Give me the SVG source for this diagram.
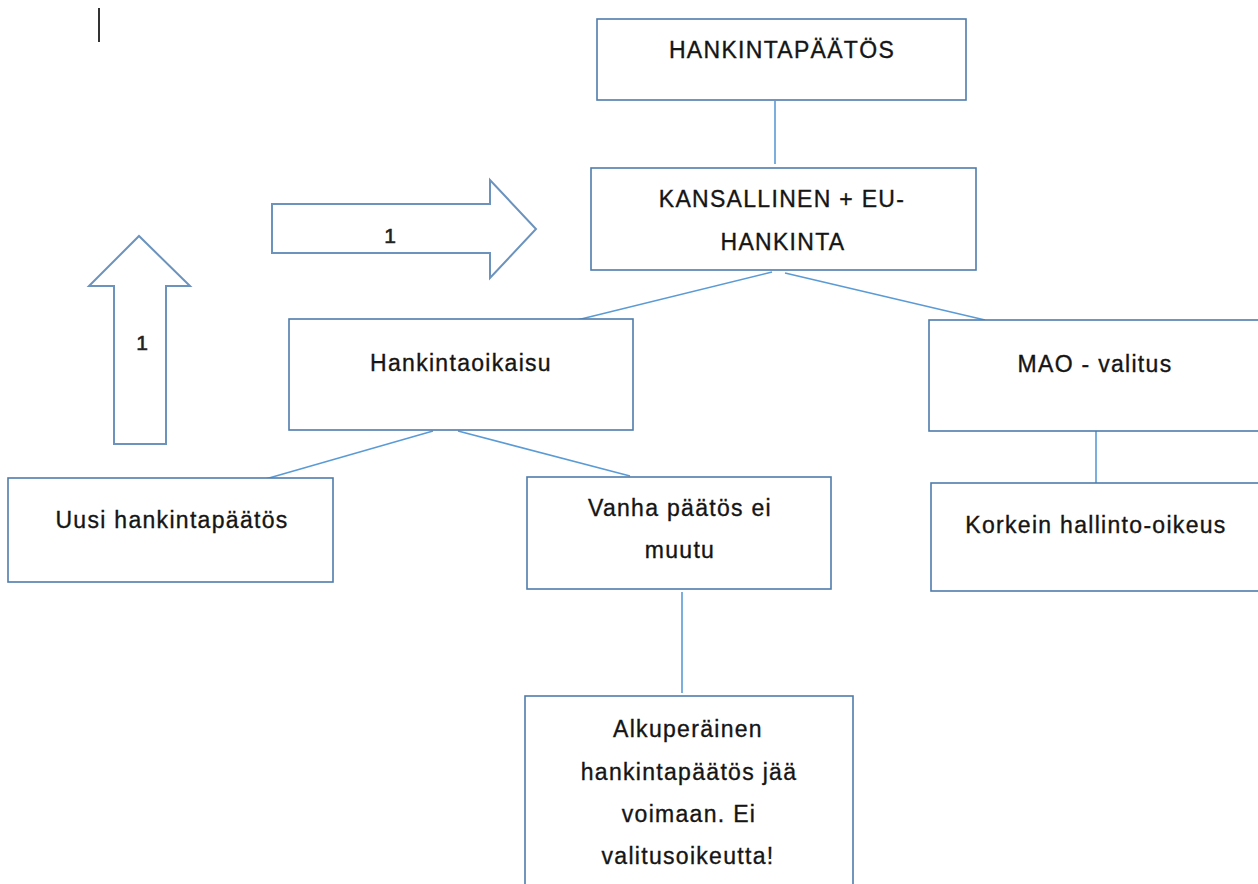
<svg xmlns="http://www.w3.org/2000/svg" width="1258" height="884" viewBox="0 0 1258 884">
<style>
.box{fill:#fff;stroke:#4f7cab;stroke-width:1.6}
.arrow{fill:#fff;stroke:#6b93be;stroke-width:2;stroke-linejoin:miter}
.conn{stroke:#5b9bd5;stroke-width:1.6;fill:none}
.t{font-family:"Liberation Sans",Arial,sans-serif;font-size:23px;fill:#151515;stroke:#151515;stroke-width:0.35;text-anchor:middle;letter-spacing:1.3px}
.n{font-family:"Liberation Sans",Arial,sans-serif;font-size:21px;fill:#222;stroke:#222;stroke-width:0.6;text-anchor:middle}
</style>
<rect x="98" y="8" width="2" height="34" fill="#333"/>
<g id="connectors">
<line class="conn" x1="775" y1="101" x2="775" y2="164"/>
<line class="conn" x1="772" y1="272" x2="577" y2="320"/>
<line class="conn" x1="785" y1="273" x2="985" y2="320"/>
<line class="conn" x1="433" y1="431" x2="262" y2="480"/>
<line class="conn" x1="458" y1="431" x2="630" y2="476"/>
<line class="conn" x1="1096" y1="431" x2="1096" y2="483"/>
<line class="conn" x1="682" y1="592" x2="682" y2="693"/>
</g>
<g id="arrow-right">
<polygon class="arrow" points="272,204 490,204 490,180 536,229 490,278 490,253 272,253"/>
<text class="n" x="390" y="243">1</text>
</g>
<g id="arrow-up">
<polygon class="arrow" points="114,444 114,286 89,286 139,236 190,286 166,286 166,444"/>
<text class="n" x="142" y="350">1</text>
</g>
<g id="hankintapaatos">
<rect class="box" x="597" y="19" width="369" height="81"/>
<text class="t" x="782" y="58">HANKINTAPÄÄTÖS</text>
</g>
<g id="kansallinen">
<rect class="box" x="591" y="168" width="385" height="102"/>
<text class="t" x="782" y="207">KANSALLINEN + EU-</text>
<text class="t" x="783" y="250">HANKINTA</text>
</g>
<g id="hankintaoikaisu">
<rect class="box" x="289" y="319" width="344" height="111"/>
<text class="t" x="461" y="371">Hankintaoikaisu</text>
</g>
<g id="mao">
<rect class="box" x="929" y="320" width="335" height="111"/>
<text class="t" x="1095" y="372">MAO - valitus</text>
</g>
<g id="uusi">
<rect class="box" x="8" y="478" width="325" height="104"/>
<text class="t" x="172" y="528">Uusi hankintapäätös</text>
</g>
<g id="vanha">
<rect class="box" x="527" y="477" width="304" height="112"/>
<text class="t" x="680" y="516">Vanha päätös ei</text>
<text class="t" x="680" y="558">muutu</text>
</g>
<g id="korkein">
<rect class="box" x="931" y="483" width="335" height="108"/>
<text class="t" x="1096" y="533">Korkein hallinto-oikeus</text>
</g>
<g id="alkuperainen">
<rect class="box" x="525" y="696" width="328" height="200"/>
<text class="t" x="688" y="737">Alkuperäinen</text>
<text class="t" x="689" y="780">hankintapäätös jää</text>
<text class="t" x="689" y="822">voimaan. Ei</text>
<text class="t" x="688" y="864">valitusoikeutta!</text>
</g>
</svg>
